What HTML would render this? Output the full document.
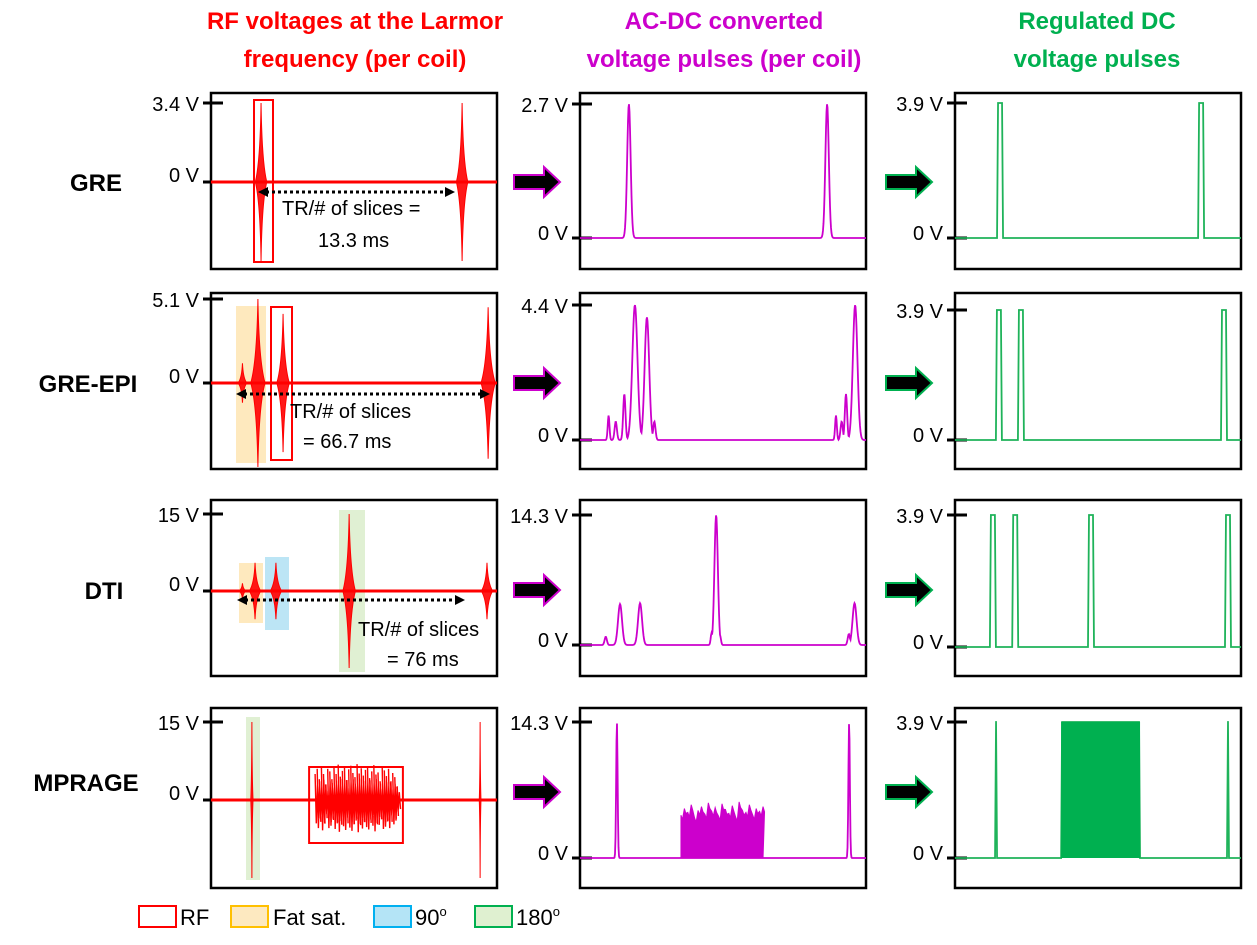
<!DOCTYPE html>
<html><head><meta charset="utf-8">
<style>
html,body{margin:0;padding:0;background:#fff;}
body{width:1257px;height:940px;overflow:hidden;font-family:"Liberation Sans",sans-serif;}
svg text{font-family:"Liberation Sans",sans-serif;}
</style></head>
<body>
<svg id="fig" width="1257" height="940" viewBox="0 0 1257 940" xmlns="http://www.w3.org/2000/svg">
<g font-weight="bold" font-size="24" text-anchor="middle">
<text x="355" y="29" fill="#ff0000">RF voltages at the Larmor</text>
<text x="355" y="67" fill="#ff0000">frequency (per coil)</text>
<text x="724" y="29" fill="#cc00cc">AC-DC converted</text>
<text x="724" y="67" fill="#cc00cc">voltage pulses (per coil)</text>
<text x="1097" y="29" fill="#00b050">Regulated DC</text>
<text x="1097" y="67" fill="#00b050">voltage pulses</text>
</g>
<g font-weight="bold" font-size="24" text-anchor="middle" fill="#000">
<text x="96" y="191">GRE</text>
<text x="88" y="392">GRE-EPI</text>
<text x="104" y="599">DTI</text>
<text x="86" y="791">MPRAGE</text>
</g>
<g id="panels"></g>
<g id="legend" font-size="22">
<rect x="139" y="906" width="37" height="21" fill="#fff" stroke="#ff0000" stroke-width="2"/>
<text x="180" y="925">RF</text>
<rect x="231" y="906" width="37" height="21" fill="#fde9c0" stroke="#ffc000" stroke-width="2"/>
<text x="273" y="925">Fat sat.</text>
<rect x="374" y="906" width="37" height="21" fill="#b4e4f6" stroke="#00b0f0" stroke-width="2"/>
<text x="415" y="925">90<tspan dy="-9" font-size="13">o</tspan></text>
<rect x="475" y="906" width="37" height="21" fill="#dff0d0" stroke="#00b050" stroke-width="2"/>
<text x="516" y="925">180<tspan dy="-9" font-size="13">o</tspan></text>
</g>
</svg>
<script>
// ---- data ----
const rowNames = ['gre','gre-epi','dti','mprage'];
const rfMax = [3.4, 5.1, 15, 15];
const acMax = [2.7, 4.4, 14.3, 14.3];
const dcMax = [3.9, 3.9, 3.9, 3.9];
// RF bursts: [position fraction, amplitude V, half-width fraction]
const rfGRE = [[0.175,3.4,0.02],[0.878,3.4,0.02]];
const rfEPI = [[0.11,1.2,0.015],[0.164,5.1,0.025],[0.252,4.2,0.022],[0.969,4.6,0.025]];
const rfDTI = [[0.11,1.5,0.012],[0.154,5.5,0.02],[0.227,5.5,0.02],[0.483,15,0.022],[0.965,5.5,0.02]];
const rfMPR = [[0.143,15,0.004],[0.941,15,0.003]];
const mprBlockAmps = [5,6,4,6.5,5,3,6,5.5,4,6.2,5,6.8,4.5,5.6,6.4,3.8,5.9,6.6,5.2,4.4,6.9,5.1,6.1,4.7,5.8,6.3,4.2,5.5,6.7,4.9,5.3,3.6,6.2,5.7,4.6,6,3.4,5.2,4.4,2.5];
const mprBlockRange = [0.364, 0.65];
// AC-DC peaks: [position fraction, amplitude V, sigma fraction]
const acGRE = [[0.171,2.7,0.006],[0.864,2.7,0.006]];
const acEPI = [[0.10,0.8,0.003],[0.125,0.6,0.004],[0.155,1.5,0.004],[0.192,4.4,0.009],[0.26,0.6,0.004],[0.234,4.0,0.008],[0.895,0.8,0.003],[0.915,0.6,0.004],[0.93,1.5,0.004],[0.962,4.4,0.008]];
const acDTI = [[0.09,0.9,0.004],[0.14,4.5,0.007],[0.21,4.6,0.007],[0.46,1.3,0.003],[0.476,14.3,0.006],[0.49,1.0,0.003],[0.94,1.2,0.004],[0.96,4.6,0.007]];
const acMPR = [[0.129,14.3,0.0025],[0.941,14.3,0.0025]];
const acBlockAmps = [4.5,5.2,4.8,5.6,4.2,5,5.4,4.6,5.8,4.9,5.3,4.4,5.7,5.1,4.7,5.5,4.3,5.9,5,4.8,5.6,4.5,5.2,4.9,5.4];
const acBlockRange = [0.353, 0.64];
// DC square pulses: [start, end] fraction, height = dcMax
const dcGRE = [[0.147,0.168],[0.85,0.871]];
const dcEPI = [[0.143,0.164],[0.22,0.241],[0.93,0.951]];
const dcDTI = [[0.122,0.143],[0.2,0.221],[0.465,0.486],[0.944,0.965]];
const dcMPR = [[0.140,0.147],[0.371,0.647],[0.951,0.958]];

// ---- layout ----
const colX = [[211,497],[580,866],[955,1241]];
const rowY = [[93,269],[293,469],[500,676],[708,888]];
const tickTop = [[103,299,514,722],[104,305,515,722],[103,310,515,722]];
const tickZero = [[182,383,591,800],[238,440,645,858],[238,440,647,858]];
const NS='http://www.w3.org/2000/svg';
const root=document.getElementById('panels');
function mk(tag,attrs,parent){const e=document.createElementNS(NS,tag);for(const k in attrs)e.setAttribute(k,attrs[k]);(parent||root).appendChild(e);return e;}
function xs(c,f){return colX[c][0]+f*(colX[c][1]-colX[c][0]);}
function ys(c,r,v,max){const z=tickZero[c][r],t=tickTop[c][r];return z-v/max*(z-t);}

const topLabels=[['3.4 V','5.1 V','15 V','15 V'],['2.7 V','4.4 V','14.3 V','14.3 V'],['3.9 V','3.9 V','3.9 V','3.9 V']];

function shade(c,r,x1,x2,y1,y2,fill,name){
  const e=mk('rect',{x:x1,y:y1,width:x2-x1,height:y2-y1,fill:fill,opacity:0.75});
  
  
}
// highlight shading (behind signals)
shade(0,1,236,266,306,463,'#fde2a8','fatsat-highlight-epi');
shade(0,2,239,263,563,623,'#fde2a8','fatsat-highlight-dti');
shade(0,2,265,289,557,630,'#a6dcf2','ninety-highlight-dti');
shade(0,2,339,365,510,672,'#d6ebc4','oneeighty-highlight-dti');
shade(0,3,246,260,717,880,'#d6ebc4','oneeighty-highlight-mprage');

const rfSets=[rfGRE,rfEPI,rfDTI,rfMPR];
const acSets=[acGRE,acEPI,acDTI,acMPR];
const dcSets=[dcGRE,dcEPI,dcDTI,dcMPR];

for(let r=0;r<4;r++){
  for(let c=0;c<3;c++){
    const box=mk('rect',{x:colX[c][0],y:rowY[r][0],width:colX[c][1]-colX[c][0],height:rowY[r][1]-rowY[r][0],fill:'none',stroke:'#000','stroke-width':2.5});
    
    
    const x0=colX[c][0];
    const t1=mk('line',{x1:x0-8,x2:x0+12,y1:tickTop[c][r],y2:tickTop[c][r],stroke:'#000','stroke-width':3});
    
    
    const t2=mk('line',{x1:x0-8,x2:x0+12,y1:tickZero[c][r],y2:tickZero[c][r],stroke:'#000','stroke-width':3});
    
    
    const l1=mk('text',{x:x0-12,y:tickTop[c][r]+8,'font-size':20,'text-anchor':'end'});
    l1.textContent=topLabels[c][r];
    
    
    const l2=mk('text',{x:x0-12,y:tickZero[c][r]+(c==0?0:2),'font-size':20,'text-anchor':'end'});
    l2.textContent='0 V';
    
    
  }
  // column 1: RF
  const z=tickZero[0][r];
  const base=mk('line',{x1:colX[0][0],x2:colX[0][1],y1:z,y2:z,stroke:'#ff0000','stroke-width':3});
  
  
  rfSets[r].forEach((b,i)=>{
    const cx=xs(0,b[0]), hw=b[2]*286, a=z-ys(0,r,b[1],rfMax[r]);
    const d=`M${cx-hw},${z} Q${cx-hw*0.15},${z-a*0.25} ${cx},${z-a} Q${cx+hw*0.15},${z-a*0.25} ${cx+hw},${z} Q${cx+hw*0.15},${z+a*0.25} ${cx},${z+a} Q${cx-hw*0.15},${z+a*0.25} ${cx-hw},${z}Z`;
    const p=mk('path',{d:d,fill:'#ff0000','fill-opacity':0.9,stroke:'#ff0000','stroke-width':1});
    
    
  });
  // column 2: AC-DC
  const z2=tickZero[1][r];
  let d2='';
  for(let px=0;px<=286;px+=0.5){
    const f=px/286;let v=0;
    acSets[r].forEach(p=>{v=Math.max(v,p[1]*Math.exp(-0.5*Math.pow((f-p[0])/p[2],2)));});
    d2+=(px==0?'M':'L')+(colX[1][0]+px)+','+ys(1,r,v,acMax[r]);
  }
  const ac=mk('path',{d:d2,fill:'none',stroke:'#cc00cc','stroke-width':1.8});
  
  
  // column 3: DC
  let d3='M'+colX[2][0]+','+tickZero[2][r];
  dcSets[r].forEach(p=>{
    const a=xs(2,p[0]),b=xs(2,p[1]),yt=ys(2,r,dcMax[r],dcMax[r]);
    d3+=`L${a},${tickZero[2][r]}L${a+1},${yt}L${b-1},${yt}L${b},${tickZero[2][r]}`;
  });
  d3+='L'+colX[2][1]+','+tickZero[2][r];
  const dc=mk('path',{d:d3,fill:r==3?'none':'none',stroke:'#1fb35a','stroke-width':1.8});
  
  
}
// MPRAGE RF noisy block
(function(){
  const r=3,z=tickZero[0][r],n=mprBlockAmps.length;
  const a0=xs(0,mprBlockRange[0]),a1=xs(0,mprBlockRange[1]);
  let d='';
  mprBlockAmps.forEach((v,i)=>{
    const x=a0+(a1-a0)*i/(n-1);const dy=z-ys(0,r,v,rfMax[r]);
    d+=`M${x},${z-dy}L${x+1.2},${z+dy*0.9}L${x+2.4},${z-dy*0.6}L${x+3.6},${z+dy*0.7}`;
  });
  const p=mk('path',{d:d,stroke:'#ff0000','stroke-width':1.4,fill:'none'});
  
  
  const rb=mk('rect',{x:a0-6,y:767,width:a1-a0+12,height:76,fill:'none',stroke:'#ff0000','stroke-width':2});
  
  
  // AC block
  const z2=tickZero[1][r],m=acBlockAmps.length;
  const b0=xs(1,acBlockRange[0]),b1=xs(1,acBlockRange[1]);
  let d2=`M${b0},${z2}`;
  acBlockAmps.forEach((v,i)=>{const x=b0+(b1-b0)*i/(m-1);d2+=`L${x},${ys(1,r,v,acMax[r])}L${x+1.5},${ys(1,r,v*0.9,acMax[r])}`;});
  d2+=`L${b1},${z2}Z`;
  const q=mk('path',{d:d2,fill:'#cc00cc',stroke:'#cc00cc','stroke-width':1});
  
  
  // DC block
  const c0=xs(2,dcMPR[1][0]),c1=xs(2,dcMPR[1][1]);
  const g=mk('rect',{x:c0,y:ys(2,r,dcMax[r],dcMax[r]),width:c1-c0,height:tickZero[2][r]-ys(2,r,dcMax[r],dcMax[r]),fill:'#00b050'});
  
  
})();
// RF boxes
[[254,100,19,162,'gre-rf-highlight'],[271,307,21,153,'epi-rf-highlight']].forEach(b=>{
  const e=mk('rect',{x:b[0],y:b[1],width:b[2],height:b[3],fill:'none',stroke:'#ff0000','stroke-width':2});
  
  
});
// TR arrows and text
[[258,455,192,'gre'],[236,490,394,'epi'],[237,465,600,'dti']].forEach(a=>{
  const l=mk('line',{x1:a[0]+8,x2:a[1]-8,y1:a[2],y2:a[2],stroke:'#000','stroke-width':3,'stroke-dasharray':'3,3'});
  
  
  const h1=mk('path',{d:`M${a[0]},${a[2]}L${a[0]+10},${a[2]-5}L${a[0]+10},${a[2]+5}Z`,fill:'#000'});
  
  
  const h2=mk('path',{d:`M${a[1]},${a[2]}L${a[1]-10},${a[2]-5}L${a[1]-10},${a[2]+5}Z`,fill:'#000'});
  
  
});
[[282,215,'TR/# of slices =','gre-tr-text-1'],[318,247,'13.3 ms','gre-tr-text-2'],[290,418,'TR/# of slices','epi-tr-text-1'],[303,448,'= 66.7 ms','epi-tr-text-2'],[358,636,'TR/# of slices','dti-tr-text-1'],[387,666,'= 76 ms','dti-tr-text-2']].forEach(t=>{
  const e=mk('text',{x:t[0],y:t[1],'font-size':20});
  e.textContent=t[2];
  
  
});
// block arrows between columns
const arrowY=[182,383,590,792];
arrowY.forEach((y,r)=>{
  [[514,'#cc00cc','acdc'],[886,'#00b050','dc']].forEach(a=>{
    const x=a[0];
    const d=`M${x},${y-7}L${x+30},${y-7}L${x+30},${y-15}L${x+46},${y}L${x+30},${y+15}L${x+30},${y+7}L${x},${y+7}Z`;
    const e=mk('path',{d:d,fill:'#000',stroke:a[1],'stroke-width':2});
    
    
  });
});
</script>
</body></html>
